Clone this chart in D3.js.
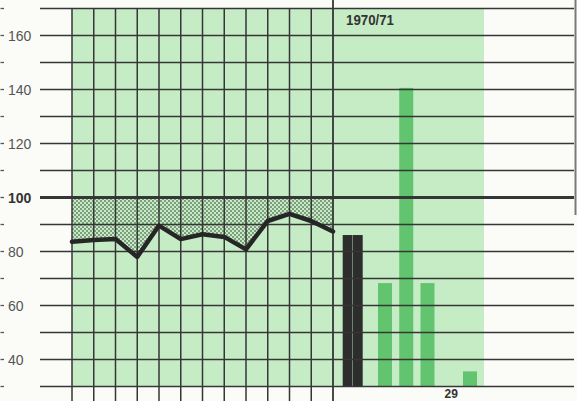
<!DOCTYPE html>
<html><head><meta charset="utf-8">
<script src="https://cdn.jsdelivr.net/npm/d3@7"></script>
<style>html,body{margin:0;padding:0;background:#fbfbf8;}svg{display:block;}</style>
</head><body>
<svg id="c" width="577" height="401"></svg>
<script>
// ---- data ----
const yTickLabels = [40, 60, 80, 100, 120, 140, 160];
const gridValues = [30, 40, 50, 60, 70, 80, 90, 100, 110, 120, 130, 140, 150, 160, 170];
const periods = ["1","2","3","4","5","6","7","8","9","10","11","12","13"];
const lineValues = [83.6, 84.3, 84.6, 78, 89.6, 84.6, 86.4, 85.4, 80.8, 91.3, 93.9, 91.3, 87.4];
const baseValue = 100;
const blackCats = ["K1", "K2"];
const blackValues = [86.1, 86.1];
const greenCats = ["a", "b", "c", "d", "e"];
const greenValues = [68.3, 140.6, 68.3, 29, 35.6];
const panelTitle = "1970/71";

// ---- chart ----
const svg = d3.select("#c");
const W = 577, H = 401;
const y = d3.scaleLinear().domain([30, 170]).range([386.5, 8.5]);
const x = d3.scalePoint().domain(periods).range([72, 333]);
const xb = d3.scaleBand().domain(blackCats).range([342.7, 362.7]).paddingInner(0.04);
const xg = d3.scalePoint().domain(greenCats).range([385, 470]);
const gridColor = "#363636";

// green background
svg.append("rect").attr("x", 72).attr("y", y(170)).attr("width", 484 - 72)
  .attr("height", y(30) - y(170)).attr("fill", "#c6ecc6");

// dot pattern
const defs = svg.append("defs");
const pat = defs.append("pattern").attr("id", "dots").attr("patternUnits", "userSpaceOnUse")
  .attr("width", 4).attr("height", 4);
pat.append("rect").attr("width", 4).attr("height", 4).attr("fill", "#c6ecc6");
pat.append("circle").attr("cx", 1).attr("cy", 1).attr("r", 0.8).attr("fill", "#223822");
pat.append("circle").attr("cx", 3).attr("cy", 3).attr("r", 0.8).attr("fill", "#223822");

// shaded area between line and 100
const area = d3.area().x((d, i) => x(periods[i])).y0(y(baseValue)).y1(d => y(d));
svg.append("path").datum(lineValues).attr("d", area).attr("fill", "url(#dots)");

// bars
svg.selectAll(".bk").data(blackValues).join("rect")
  .attr("x", (d, i) => xb(blackCats[i])).attr("width", xb.bandwidth())
  .attr("y", d => y(d)).attr("height", d => y(30) - y(d)).attr("fill", "#2d2d2d");
const barW = 14;
svg.selectAll(".gb").data(greenValues.map((v, i) => ({v, c: greenCats[i]})).filter(d => d.v >= 30))
  .join("rect")
  .attr("x", d => xg(d.c) - barW / 2).attr("width", barW)
  .attr("y", d => y(d.v)).attr("height", d => y(30) - y(d.v)).attr("fill", "#62c46e");

// horizontal grid
svg.selectAll(".hg").data(gridValues).join("line")
  .attr("x1", 40).attr("x2", 574).attr("y1", d => y(d)).attr("y2", d => y(d))
  .attr("stroke", gridColor).attr("stroke-width", d => d === 100 ? 3 : 1.5);

// vertical grid
svg.selectAll(".vg").data(periods).join("line")
  .attr("x1", d => x(d)).attr("x2", d => x(d))
  .attr("y1", (d, i) => i === periods.length - 1 ? 0 : y(170)).attr("y2", H)
  .attr("stroke", gridColor).attr("stroke-width", (d, i) => i === periods.length - 1 ? 1.8 : 1.5);

// line
svg.append("path").datum(lineValues)
  .attr("d", d3.line().x((d, i) => x(periods[i])).y(d => y(d)))
  .attr("fill", "none").attr("stroke", "#262626").attr("stroke-width", 4.5)
  .attr("stroke-linejoin", "round").attr("stroke-linecap", "round");

// left axis: small dashes and labels
svg.selectAll(".tk").data(gridValues).join("line")
  .attr("x1", 0.5).attr("x2", 4).attr("y1", d => y(d)).attr("y2", d => y(d))
  .attr("stroke", "#555").attr("stroke-width", 1.3);
svg.selectAll(".tl").data(yTickLabels).join("text")
  .attr("x", 8).attr("y", d => y(d)).attr("dy", "0.36em")
  .attr("font-family", "Liberation Sans, Arial, sans-serif").attr("font-size", 14)
  .attr("font-weight", d => d === 100 ? "bold" : "normal")
  .attr("fill", d => d === 100 ? "#333" : "#555").text(d => d);

// title of right panel
svg.append("text").attr("x", 346).attr("y", 25)
  .attr("font-family", "Liberation Sans, Arial, sans-serif").attr("font-size", 14)
  .attr("font-weight", "bold").attr("fill", "#333")
  .attr("textLength", 48).attr("lengthAdjust", "spacingAndGlyphs").text(panelTitle);

// label for value below axis range
svg.selectAll(".lb").data(greenValues.map((v, i) => ({v, c: greenCats[i]})).filter(d => d.v < 30))
  .join("text")
  .attr("x", d => xg(d.c) + 2.5).attr("y", 397.5).attr("text-anchor", "middle")
  .attr("font-family", "Liberation Sans, Arial, sans-serif").attr("font-size", 12)
  .attr("font-weight", "bold").attr("fill", "#333").text(d => d.v);

// page edge
svg.append("line").attr("x1", 575.5).attr("x2", 575.5).attr("y1", 0).attr("y2", 215)
  .attr("stroke", "#7a7a7a").attr("stroke-width", 2);
</script>
</body></html>
